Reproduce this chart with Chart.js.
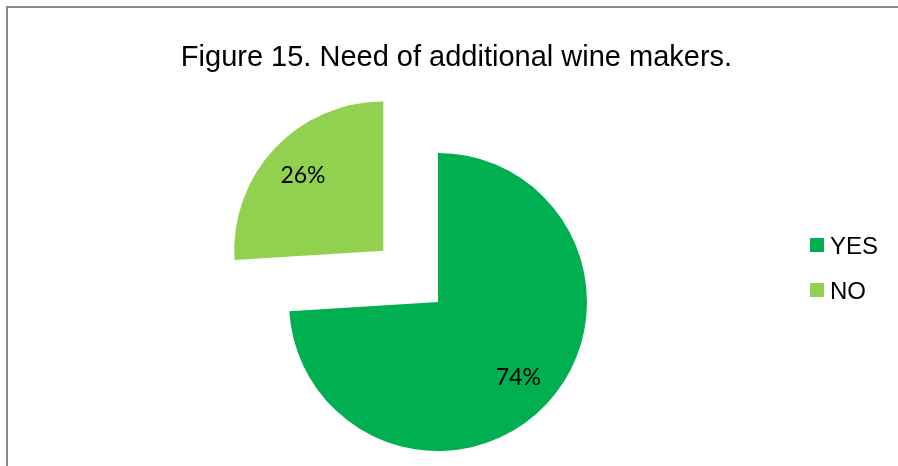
<!DOCTYPE html>
<html>
<head>
<meta charset="utf-8">
<title>Figure 15</title>
<script src="https://cdn.jsdelivr.net/npm/chart.js@4/dist/chart.umd.min.js"></script>
<style>
html, body { margin:0; padding:0; background:#fff; overflow:hidden; }
#marco { position:absolute; left:6px; top:6px; width:1000px; height:600px; border:2px solid #888; }
#grafico { position:absolute; left:0; top:0; }
#titulo { position:absolute; left:0; top:40px; width:913px; text-align:center; line-height:33px;
  font-size:29px; font-family:"Liberation Sans", Arial, sans-serif; color:#000; white-space:nowrap; }
#leyenda { position:absolute; left:810px; top:232px; margin:0; padding:0; list-style:none;
  font-size:24px; font-family:"Liberation Sans", Arial, sans-serif; color:#000; }
#leyenda li { position:absolute; left:0; padding-left:20px; height:27px; line-height:27px; white-space:nowrap; }
#leyenda .cuadro { position:absolute; left:0; top:6px; width:14px; height:14px; }
</style>
</head>
<body>
<div id="marco"></div>
<canvas id="grafico" width="898" height="466"></canvas>
<div id="titulo">Figure 15. Need of additional wine makers.</div>
<ul id="leyenda"></ul>
<script>
// Datos
const categorias = ["YES", "NO"];
const porcentajes = [74, 26];
const colores = ["#00B050", "#92D050"];

const fuenteEtiquetas = "23px Lato";

// Leyenda
let leyenda = "";
categorias.forEach((cat, i) => {
leyenda += `<li style="top:${i*45}px"><span class="cuadro" style="background:${colores[i]}"></span>${cat}</li>`;
});
document.getElementById("leyenda").innerHTML = leyenda;

// Etiquetas de porcentaje dentro de cada sector
const etiquetas = {
id: "etiquetas",
afterDatasetsDraw(chart){
const ctx = chart.ctx;
const meta = chart.getDatasetMeta(0);
ctx.save();
ctx.font = fuenteEtiquetas;
ctx.fillStyle = "#000";
ctx.textAlign = "center";
ctx.textBaseline = "middle";
meta.data.forEach((arco, i) => {
let p = arco.getProps(["x","y","startAngle","endAngle","outerRadius"], true);
let medio = (p.startAngle + p.endAngle)/2;
// el sector separado se desplaza offset/4
let d = (arco.options.offset || 0)/4 + p.outerRadius*0.74;
ctx.fillText(porcentajes[i] + "%", p.x + Math.cos(medio)*d, p.y + Math.sin(medio)*d);
});
ctx.restore();
}
};

function dibujar(){
new Chart(document.getElementById("grafico"), {
type: "pie",
data: {
labels: categorias,
datasets: [{
data: porcentajes,
backgroundColor: colores,
borderWidth: 0,
offset: [0, 300],
hoverOffset: 0,
radius: 149
}]
},
options: {
responsive: false,
animation: false,
events: [],
layout: { padding: { left: 0, right: 22, top: 138, bottom: 0 } },
plugins: {
legend: { display: false },
tooltip: { enabled: false },
title: { display: false }
}
},
plugins: [etiquetas]
});
}

document.fonts.load(fuenteEtiquetas).then(dibujar, dibujar);
</script>
</body>
</html>
